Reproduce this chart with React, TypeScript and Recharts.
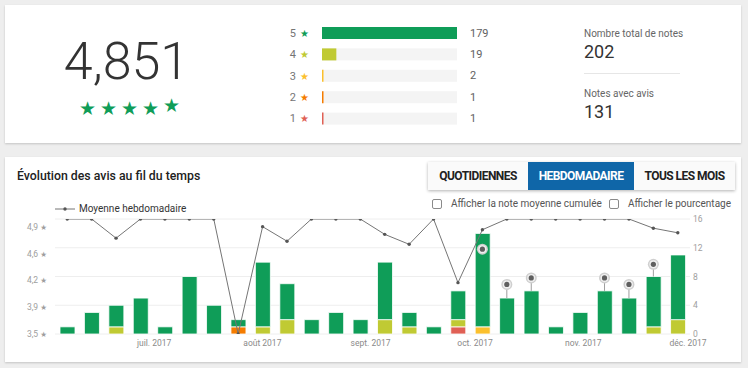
import React from 'react';
import {
  ComposedChart,
  BarChart,
  Bar,
  Line,
  Scatter,
  XAxis,
  YAxis,
  CartesianGrid,
  ErrorBar,
  Cell,
} from 'recharts';

// ---------- Data ----------
const starLevels = [5, 4, 3, 2, 1];
const starCounts = [179, 19, 2, 1, 1];
const starColors = ['#0f9d58', '#c0ca33', '#fbc02d', '#f57c00', '#e06055'];

const weekIndex = [0, 1, 2, 3, 4, 5, 6, 7, 8, 9, 10, 11, 12, 13, 14, 15, 16, 17, 18, 19, 20, 21, 22, 23, 24, 25];
const fiveStar = [1, 3, 3, 5, 1, 8, 4, 1, 9, 5, 2, 3, 2, 8, 2, 1, 4, 13, 5, 6, 1, 3, 6, 5, 7, 9];
const fourStar = [0, 0, 1, 0, 0, 0, 0, 0, 1, 2, 0, 0, 0, 2, 1, 0, 1, 0, 0, 0, 0, 0, 0, 0, 1, 2];
const threeStar = [0, 0, 0, 0, 0, 0, 0, 0, 0, 0, 0, 0, 0, 0, 0, 0, 0, 1, 0, 0, 0, 0, 0, 0, 0, 0];
const twoStar = [0, 0, 0, 0, 0, 0, 0, 1, 0, 0, 0, 0, 0, 0, 0, 0, 0, 0, 0, 0, 0, 0, 0, 0, 0, 0];
const oneStar = [0, 0, 0, 0, 0, 0, 0, 0, 0, 0, 0, 0, 0, 0, 0, 0, 1, 0, 0, 0, 0, 0, 0, 0, 0, 0];
const weeklyAverage = [5, 5, 4.75, 5, 5, 5, 5, 3.5, 4.9, 4.71, 5, 5, 5, 4.8, 4.67, 5, 4.17, 4.86, 5, 5, 5, 5, 5, 5, 4.88, 4.82];

const pinWeeks = [17, 18, 19, 22, 23, 24];
const pinValues = [11.8, 6.9, 7.8, 7.8, 6.9, 9.7];

const monthTicks = [3.56, 7.99, 12.42, 16.7, 21.13, 25.42];
const monthLabels = ['juil. 2017', 'août 2017', 'sept. 2017', 'oct. 2017', 'nov. 2017', 'déc. 2017'];
const avgTicks = [3.5, 3.85, 4.2, 4.55, 4.9];
const avgTickLabels = ['3,5', '3,9', '4,2', '4,6', '4,9'];
const countTicks = [0, 4, 8, 12, 16];

// ---------- Derived tables ----------
const weekData = weekIndex.map((i, k) => ({
  i,
  s1: oneStar[k],
  s2: twoStar[k],
  s3: threeStar[k],
  s4: fourStar[k],
  s5: fiveStar[k],
  avg: weeklyAverage[k],
}));

const pinData = pinWeeks.map((w, k) => {
  const k2 = weekIndex.indexOf(w);
  const total = fiveStar[k2] + fourStar[k2] + threeStar[k2] + twoStar[k2] + oneStar[k2];
  const v = pinValues[k];
  return { i: w, v, err: [Math.max(0, v - total), 0] };
});

const histData = starLevels.map((s, k) => ({ star: s, count: starCounts[k] }));

const FONT = "Roboto, 'Noto Sans', 'DejaVu Sans', sans-serif";

// ---------- Small components ----------
const PinShape = (props: any) => {
  const { cx, cy } = props;
  if (cx == null || cy == null) return null;
  return (
    <g>
      <circle cx={cx} cy={cy} r={5.5} fill="#cfcfcf" />
      <circle cx={cx} cy={cy} r={4} fill="#f0f0f0" />
      <circle cx={cx} cy={cy} r={2.6} fill="#5f5f5f" />
    </g>
  );
};

const HistTick = (props: any) => {
  const { x, y, payload } = props;
  const k = starLevels.indexOf(payload.value);
  return (
    <text x={x - 5} y={y} textAnchor="end" dominantBaseline="central" fontFamily={FONT}>
      <tspan fontSize={11} fill="#757575">{payload.value}</tspan>
      <tspan fontSize={10} fill={starColors[k]} dx={4}>★</tspan>
    </text>
  );
};

const HistTrack = (props: any) => {
  const { x, y, width, height, index } = props;
  return (
    <g>
      <rect x={x} y={y} width={width} height={height} fill="#f4f4f4" />
      <text
        x={x + width + 13}
        y={y + height / 2}
        dominantBaseline="central"
        fontSize={11}
        fill="#616161"
        fontFamily={FONT}
      >
        {starCounts[index]}
      </text>
    </g>
  );
};

const AvgTick = (props: any) => {
  const { x, y, payload } = props;
  const k = avgTicks.indexOf(payload.value);
  return (
    <text x={x} y={y} textAnchor="end" dominantBaseline="central" fontSize={8.5} fill="#9e9e9e" fontFamily={FONT}>
      {avgTickLabels[k]} <tspan fontSize={7.5}>★</tspan>
    </text>
  );
};

const Checkbox = ({ left, top, label }: { left: number; top: number; label: string }) => (
  <div style={{ position: 'absolute', left, top, display: 'flex', alignItems: 'center' }}>
    <div
      style={{
        width: 8,
        height: 8,
        border: '1px solid #8a8a8a',
        borderRadius: 2,
        background: '#fff',
        marginRight: 9,
      }}
    />
    <span style={{ fontSize: 10, color: '#555', lineHeight: '12px' }}>{label}</span>
  </div>
);

const buttonBase: React.CSSProperties = {
  display: 'flex',
  alignItems: 'center',
  justifyContent: 'center',
  height: '100%',
  fontSize: 12,
  fontWeight: 700,
  letterSpacing: -0.55,
  color: '#212121',
};

export default function App() {
  return (
    <div
      style={{
        position: 'absolute',
        left: 0,
        top: 0,
        width: 748,
        height: 368,
        background: '#eeeeee',
        fontFamily: FONT,
        overflow: 'hidden',
      }}
    >
      {/* Top card */}
      <div
        style={{
          position: 'absolute',
          left: 5,
          top: 5,
          width: 736,
          height: 138,
          background: '#fff',
          boxShadow: '0 1px 2px rgba(0,0,0,0.18)',
        }}
      />
      <div
        style={{
          position: 'absolute',
          left: 5,
          top: 36,
          width: 243,
          textAlign: 'center',
          fontSize: 52,
          lineHeight: '52px',
          fontWeight: 300,
          color: '#333',
        }}
      >
        4,851
      </div>
      <div style={{ position: 'absolute', left: 77, top: 97, display: 'flex' }}>
        {[0, 1, 2, 3, 4].map((k) => (
          <span
            key={k}
            style={{
              display: 'inline-block',
              width: 21,
              textAlign: 'center',
              fontSize: 19,
              lineHeight: '22px',
              color: '#0f9d58',
              fontFamily: "'DejaVu Sans', sans-serif",
              position: 'relative',
              top: k === 4 ? -3 : 0,
            }}
          >
            ★
          </span>
        ))}
      </div>

      <div style={{ position: 'absolute', left: 285, top: 20 }}>
        <BarChart
          layout="vertical"
          width={212}
          height={112}
          data={histData}
          margin={{ top: 2, right: 40, bottom: 3, left: 0 }}
        >
          <XAxis type="number" hide domain={[0, 179]} />
          <YAxis
            type="category"
            dataKey="star"
            width={37}
            interval={0}
            axisLine={false}
            tickLine={false}
            tick={<HistTick />}
          />
          <Bar
            dataKey="count"
            barSize={12}
            isAnimationActive={false}
            background={HistTrack}
            minPointSize={1.5}
          >
            {histData.map((d, k) => (
              <Cell key={k} fill={starColors[k]} />
            ))}
          </Bar>
        </BarChart>
      </div>

      <div style={{ position: 'absolute', left: 584, top: 29, fontSize: 10, lineHeight: '10px', color: '#666' }}>
        Nombre total de notes
      </div>
      <div style={{ position: 'absolute', left: 584, top: 43, fontSize: 18, lineHeight: '18px', color: '#333' }}>
        202
      </div>
      <div style={{ position: 'absolute', left: 584, top: 73, width: 96, height: 1, background: '#e6e6e6' }} />
      <div style={{ position: 'absolute', left: 584, top: 89, fontSize: 10, lineHeight: '10px', color: '#666' }}>
        Notes avec avis
      </div>
      <div style={{ position: 'absolute', left: 584, top: 103, fontSize: 18, lineHeight: '18px', color: '#333' }}>
        131
      </div>

      {/* Bottom card */}
      <div
        style={{
          position: 'absolute',
          left: 5,
          top: 157,
          width: 736,
          height: 205,
          background: '#fff',
          boxShadow: '0 1px 2px rgba(0,0,0,0.18)',
        }}
      />
      <div
        style={{
          position: 'absolute',
          left: 17,
          top: 170,
          fontSize: 12.3,
          lineHeight: '13px',
          fontWeight: 500,
          color: '#212121',
        }}
      >
        Évolution des avis au fil du temps
      </div>

      <div
        style={{
          position: 'absolute',
          left: 428,
          top: 162,
          width: 307,
          height: 28,
          display: 'flex',
          background: '#fafafa',
          boxShadow: '0 1px 3px rgba(0,0,0,0.3)',
        }}
      >
        <div style={{ ...buttonBase, width: 100 }}>QUOTIDIENNES</div>
        <div style={{ ...buttonBase, width: 106, background: '#0f66a8', color: '#fff' }}>HEBDOMADAIRE</div>
        <div style={{ ...buttonBase, width: 101 }}>TOUS LES MOIS</div>
      </div>

      <Checkbox left={432} top={198} label="Afficher la note moyenne cumulée" />
      <Checkbox left={609} top={198} label="Afficher le pourcentage" />

      {/* Legend */}
      <div style={{ position: 'absolute', left: 55, top: 203, display: 'flex', alignItems: 'center' }}>
        <svg width={22} height={12}>
          <line x1={0} y1={6} x2={20} y2={6} stroke="#757575" strokeWidth={1} />
          <circle cx={10} cy={6} r={1.7} fill="#555" />
        </svg>
        <span style={{ fontSize: 10, color: '#333', lineHeight: '12px', marginLeft: 2 }}>Moyenne hebdomadaire</span>
      </div>

      {/* Main chart */}
      <div style={{ position: 'absolute', left: 0, top: 210 }}>
        <ComposedChart width={748} height={144} data={weekData} margin={{ top: 9, right: 8, bottom: 0, left: 0 }}>
          <CartesianGrid yAxisId="count" vertical={false} stroke="#eeeeee" />
          <XAxis
            dataKey="i"
            type="number"
            domain={[-0.5, 25.5]}
            ticks={monthTicks}
            interval={0}
            tickFormatter={(v: number) => monthLabels[monthTicks.indexOf(v)]}
            axisLine={false}
            tickLine={false}
            tickSize={3}
            tickMargin={3}
            height={20}
            tick={{ fontSize: 8.5, fill: '#8a8a8a', fontFamily: FONT }}
          />
          <YAxis
            yAxisId="avg"
            orientation="left"
            domain={[3.5, 5]}
            ticks={avgTicks}
            interval={0}
            width={55}
            axisLine={false}
            tickLine={false}
            tick={<AvgTick />}
            allowDataOverflow
          />
          <YAxis
            yAxisId="count"
            orientation="right"
            domain={[0, 16]}
            ticks={countTicks}
            interval={0}
            width={50}
            axisLine={false}
            tickLine={false}
            tickSize={0}
            tickMargin={3}
            tick={{ fontSize: 8.5, fill: '#9e9e9e', fontFamily: FONT }}
          />
          <Bar yAxisId="count" dataKey="s1" stackId="w" barSize={15} fill={starColors[4]} stroke="#fff" strokeWidth={0.8} isAnimationActive={false} />
          <Bar yAxisId="count" dataKey="s2" stackId="w" barSize={15} fill={starColors[3]} stroke="#fff" strokeWidth={0.8} isAnimationActive={false} />
          <Bar yAxisId="count" dataKey="s3" stackId="w" barSize={15} fill={starColors[2]} stroke="#fff" strokeWidth={0.8} isAnimationActive={false} />
          <Bar yAxisId="count" dataKey="s4" stackId="w" barSize={15} fill={starColors[1]} stroke="#fff" strokeWidth={0.8} isAnimationActive={false} />
          <Bar yAxisId="count" dataKey="s5" stackId="w" barSize={15} fill={starColors[0]} stroke="#fff" strokeWidth={0.8} isAnimationActive={false} />
          <Line
            yAxisId="avg"
            dataKey="avg"
            type="linear"
            stroke="#757575"
            strokeWidth={1}
            dot={{ r: 1.7, fill: '#555', stroke: '#555', strokeWidth: 0 }}
            activeDot={false}
            isAnimationActive={false}
          />
          <Scatter yAxisId="count" data={pinData} dataKey="v" shape={PinShape} isAnimationActive={false}>
            <ErrorBar dataKey="err" direction="y" width={0} stroke="#9e9e9e" strokeWidth={1} />
          </Scatter>
        </ComposedChart>
      </div>
    </div>
  );
}
